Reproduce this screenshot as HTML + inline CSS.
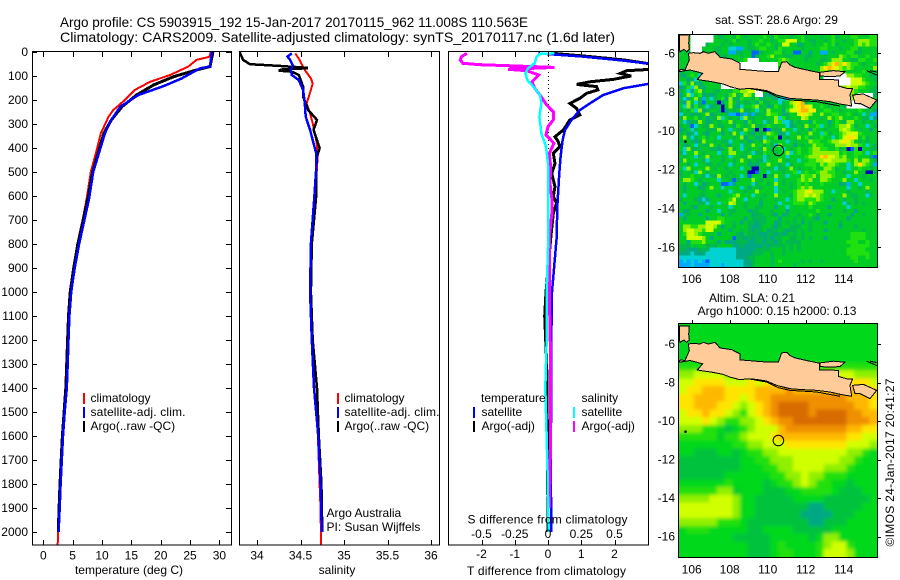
<!DOCTYPE html>
<html>
<head>
<meta charset="utf-8">
<style>
html,body{margin:0;padding:0;background:#fff;}
svg{display:block;}
text{font-family:"Liberation Sans",sans-serif;font-size:12px;fill:#000;}
</style>
</head>
<body>
<svg id="fig" xmlns="http://www.w3.org/2000/svg" width="900" height="580" viewBox="0 0 900 580">
<defs>
<clipPath id="clip-t"><rect x="32" y="52" width="199" height="493"/></clipPath>
<clipPath id="clip-s"><rect x="239" y="52" width="200" height="493"/></clipPath>
<clipPath id="clip-d"><rect x="448" y="52" width="201" height="493"/></clipPath>
<clipPath id="clip-sst"><rect x="679" y="35" width="198" height="232"/></clipPath>
<clipPath id="clip-sla"><rect x="679" y="324" width="198" height="233"/></clipPath>
<filter id="soften" x="-10%" y="-10%" width="120%" height="120%"><feGaussianBlur stdDeviation="1.8"/></filter>
</defs>

<text x="60" y="27" font-size="14" style="font-size:14px" textLength="468" lengthAdjust="spacingAndGlyphs">Argo profile: CS 5903915_192 15-Jan-2017 20170115_962 11.008S 110.563E</text>
<text x="60" y="42" style="font-size:14px" textLength="555" lengthAdjust="spacingAndGlyphs">Climatology: CARS2009. Satellite-adjusted climatology: synTS_20170117.nc (1.6d later)</text>

<g id="panel-t"></g>
<g id="panel-s"></g>
<g id="panel-d"></g>

<g>
<rect x="83" y="393" width="2" height="11" fill="#ff0000"/>
<rect x="83" y="407" width="2" height="11" fill="#0000ff"/>
<rect x="83" y="421" width="2" height="11" fill="#000"/>
<text x="90.5" y="402">climatology</text>
<text x="90.5" y="416" textLength="95">satellite-adj. clim.</text>
<text x="90.5" y="430">Argo(..raw -QC)</text>
</g>
<g>
<rect x="337" y="393" width="2" height="11" fill="#ff0000"/>
<rect x="337" y="407" width="2" height="11" fill="#0000ff"/>
<rect x="337" y="421" width="2" height="11" fill="#000"/>
<text x="344.5" y="402">climatology</text>
<text x="344.5" y="416" textLength="95">satellite-adj. clim.</text>
<text x="344.5" y="430">Argo(..raw -QC)</text>
<text x="326.5" y="517">Argo Australia</text>
<text x="326.5" y="531">PI: Susan Wijffels</text>
</g>
<g>
<text x="481" y="402">temperature</text>
<rect x="473" y="407" width="2" height="11" fill="#0000ff"/>
<rect x="473" y="421" width="2" height="11" fill="#000"/>
<text x="481.5" y="416">satellite</text>
<text x="481.5" y="430">Argo(-adj)</text>
<text x="581.5" y="402">salinity</text>
<rect x="573" y="407" width="2" height="11" fill="#00ffff"/>
<rect x="573" y="421" width="2" height="11" fill="#ff00ff"/>
<text x="581.5" y="416">satellite</text>
<text x="581.5" y="430">Argo(-adj)</text>
</g>

<text x="129" y="574" text-anchor="middle">temperature (deg C)</text>
<text x="337" y="574" text-anchor="middle">salinity</text>
<text x="546.5" y="575" text-anchor="middle" textLength="159">T difference from climatology</text>
<text x="547.5" y="523.5" text-anchor="middle" textLength="160">S difference from climatology</text>

<g id="map-sst"></g>
<g id="map-sla"></g>

<text x="776.5" y="24" text-anchor="middle">sat. SST: 28.6 Argo: 29</text>
<text x="752" y="302" text-anchor="middle">Altim. SLA: 0.21</text>
<text x="777" y="315" text-anchor="middle">Argo h1000: 0.15 h2000: 0.13</text>
<text transform="translate(894,546.5) rotate(-90)" textLength="168">©IMOS 24-Jan-2017 20:41:27</text>
</svg>

<script>
const depthTicks = [0,100,200,300,400,500,600,700,800,900,1000,1100,1200,1300,1400,1500,1600,1700,1800,1900,2000];
const tempTicks = [0,5,10,15,20,25,30];
const salTicks = [34,34.5,35,35.5,36];
const salTickLabels = ['34','34.5','35','35.5','36'];
const tDiffTicks = [-2,-1,0,1,2];
const sDiffTicks = [-0.5,-0.25,0,0.25,0.5];
const sDiffTickLabels = ['-0.5','-0.25','0','0.25','0.5'];

const tempClimDepth = [0,20,33,61,96,124,158,200,242,270,339,408,500,610,700,800,900,1000,1100,1200,1300,1400,1500,1600,1700,1800,1900,2000,2054];
const tempClim = [28.5,28.3,26.1,24.7,21.6,18.2,15.6,13.9,11.9,11.1,9.8,9.1,8.1,7.4,6.7,5.8,5.1,4.5,4.2,4.05,3.9,3.75,3.45,3.2,3.0,2.8,2.6,2.5,2.45];
const tempArgoDepth = [0,61,75,103,137,179,228,283,339,500,610,700,800,900,1000,1100,1200,1300,1400,1500,1600,1700,1800,1900,2000];
const tempArgo = [28.9,28.4,26.1,22.2,18.8,15.9,13.4,11.6,10.3,8.4,7.6,6.8,5.9,5.2,4.6,4.3,4.15,4.0,3.85,3.55,3.25,3.05,2.85,2.7,2.55];
const tempSatDepth = [0,61,68,110,142,179,228,290,339,500,610,700,800,900,1000,1100,1200,1300,1400,1500,1600,1700,1800,1900,2000];
const tempSat = [28.7,28.4,26.7,23.6,20.5,16.2,13.1,11.4,10.5,8.5,7.8,7.0,6.1,5.35,4.75,4.45,4.3,4.15,4.0,3.65,3.35,3.15,2.95,2.8,2.6];

const salClimDepth = [6,33,75,110,131,158,214,255,297,367,422,478,600,800,1000,1200,1400,1600,1800,1900,2000,2054];
const salClim = [34.44,34.49,34.55,34.62,34.64,34.62,34.57,34.61,34.64,34.68,34.70,34.69,34.67,34.63,34.61,34.63,34.66,34.70,34.72,34.73,34.735,34.735];
const salArgoDepth = [0,33,51,58,66,68,72,76,78,82,96,144,186,242,283,325,367,401,436,485,600,800,1000,1200,1400,1600,1800,2000];
const salArgo = [33.80,33.84,33.92,34.26,34.57,34.57,34.30,34.26,34.26,34.40,34.48,34.53,34.53,34.59,34.69,34.65,34.69,34.72,34.69,34.68,34.68,34.63,34.62,34.64,34.69,34.71,34.74,34.75];
const salSatDepth = [6,19,33,54,75,96,117,158,214,269,325,380,422,485,600,800,1000,1200,1400,1600,1800,1900,2000];
const salSat = [34.40,34.35,34.38,34.41,34.39,34.40,34.48,34.53,34.55,34.56,34.61,34.65,34.68,34.68,34.66,34.62,34.61,34.63,34.655,34.705,34.73,34.74,34.743];

const dTSatDepth = [6,19,36,50,131,151,179,214,242,283,325,367,436,505,644,776,1000,1200,1400,1700,2000];
const dTSat = [-0.29,1.06,2.27,3.1,3.1,2.27,1.66,1.26,0.96,0.71,0.51,0.44,0.38,0.34,0.28,0.26,0.12,0.10,0.10,0.08,0.10];
const dTArgoDepth = [6,19,33,50,72,78,89,100,114,124,135,144,158,172,193,214,235,262,283,325,353,374,394,422,464,505,561,603,630,672,776,1000,1100,1300,1550,2000];
const dTArgo = [0.16,1.26,2.27,3.1,3.1,2.37,2.17,2.5,1.96,1.26,0.86,1.46,1.5,1.16,0.96,0.66,0.86,0.96,0.66,0.46,0.21,0.31,0.36,0.16,0.21,0.11,0.21,0.16,0.26,0.16,0.08,-0.06,-0.1,-0.04,-0.02,0];
const dSSatDepth = [6,8,19,47,68,89,117,151,179,214,269,339,394,464,776,1000,1200,1400,1700,2000];
const dSSat = [0.05,-0.06,-0.085,-0.10,-0.15,-0.17,-0.155,-0.10,-0.06,-0.05,-0.065,-0.05,-0.015,0,0.002,-0.01,-0.01,-0.02,-0.005,0.005];
const dSArgoDepth = [6,19,33,47,53,58,64,72,78,96,124,151,179,221,249,283,311,346,380,422,478,547,617,665,776,1000,1300,1600,1900];
const dSArgo = [-0.61,-0.65,-0.66,-0.64,-0.51,-0.26,0.05,-0.30,-0.16,-0.07,-0.12,-0.10,-0.06,-0.01,0.04,0.04,0.0,-0.015,0.045,0.01,0.02,0.015,0.03,0.03,0.01,0.01,0.02,0.02,0.01];

// ---- map data: lon/lat ticks and colour-class cells, estimated by eye ----
const lonTicks = [106,108,110,112,114];
const latTicks = [-6,-8,-10,-12,-14,-16];
const floatLon = 110.563;
const floatLat = -11.008;
const palette = {'0':'#0000b4','1':'#0064ff','2':'#00aaff','3':'#00d2d2','4':'#00a884','5':'#00b84e','6':'#00cc28','7':'#20e010','8':'#90f000','9':'#d0ff00','a':'#ffe400','b':'#ffb800','c':'#f09000','d':'#d86c00','w':'#ffffff','g':'#00d81c','h':'#00c23e'};
const sstRows = [
"666wwwwww655665765666676576665667566656675666776667",
"666wwwwww666567566566766567799967655665676656678887",
"666wwww56665656666567667656996645665667675666678787",
"667www666556633226556776657666665666677666566775666",
"665www566656622556611566677566116646622656667755666",
"666666665665566656615667866655666556665666876776676",
"666666666666666667www6666678766665666556888665577667",
"666666666666666wwwwwwwwwww77766666665678ab8a87765666",
"666666666666666wwwwwwwwwww666666666668aba98787666668",
"566666666666666wwwwwwwwwww666666666668878887666676",
"54676366666666666666666666666666666666wwwwww88776655",
"66453766666666666666666666666666666666wwwwwww9997665",
"37585466666wwww66666666666666666666666wwwwwww9998766",
"45738546666wwww6666666666666666666666666668898877665",
"56347856655665778899ww666666666666666666667888766655",
"46836745456657856986ww544666666666666666666788 6wwww5",
"53468526356748557665745654333366666666666666786wwww6",
"5486351665046864655647556635689ab5666666666wwww65555",
"6384756345606854366785645765679aba966765 6665wwwwww66",
"5657384566504656855636586664799abb9a6677665666676564",
"3564556845665221424255687764566 9a98668667766765636 22",
"5866756455836565385566566837566698666568678666765534",
"6345586456566856647566356873346566476664676588665656",
"5651365586556647656855676566345658667365678897566365",
"4563566555856365586506015558663656476656668987656646",
"5645365466646586365465687645366566866375667899976666",
"6853567566366656846645366706566867566766367 9aa967566",
"5665458665655366564565875666365666877667889a98656 56",
"6456365586565466356866565386664656687766688898876365",
"6385556655456856365665865663656766788776675601706655",
"5366865666366886656355766566836766788888886766776367",
"6566356856656366558666356666366667888ab9987866766641",
"5866665366656656865655366686566366778899888876868865",
"6656366556566356664546686656356667776878876636 8a8762",
"6386666865665666366006656355686566676688756636676656",
"5665386566666566660016636665667367667887766566866005",
"5667665355865656361666065866366687786888766636665666",
"6887656666366515666865666365666787866887666866366656",
"6566364566611246666356656865656767666766664526636666",
"6466645686636666364655666366656787866666666636656866",
"6566665666666366656686666365667889a88866366656666566",
"6366655666466678666366566866657889898766666865566356",
"5666543466666796636665666566367887778766466566566666",
"6466655366366986656664666636667776876666666356565 6",
"6665466656666366656655666466366666 7666646666366666 6",
"6456666466366556664556665666466666667666666566466666",
"2656646666646566666455665464566566765664666664665666",
"6466666466776666646555566646665656654666666646666666",
"6666666999976656465545566456565646566646665666666 66",
"6887788998646656665445665456655566566666664666566666",
"6899887996666466565455645565455656566646666666665666",
"6799876666466665465554455454565656666666666667777666",
"6699998646666615545455454556655656566646666667777666",
"6647778666464445554455455456555566666666666677766766",
"5556666555666644544444545555656566666666666667777766",
"5544455533333334444455556665656566666666666677777666",
"4443444333333334444555665665666666666666666677777766",
"3333333333333334445566665666666666666666666667766766",
"2323232133333333344566665676666656566566666666766666",
"2223222233323333344566665666665666666666666666666666"
];
const slaRows = [
"gggggggggggggggggggggggggg",
"gggggggggggggggggggggggggg",
"gggggggggggggggggggggggggg",
"gggggggggggggggggggggggggg",
"ggg77777gggggggggggggggggg",
"77777888877777777777777777",
"88999988888999999989999888",
"99aaaa999a9aabbbbbbbbaaaa9",
"9aabbbaaaabbbbcbbbbbbbbbaa",
"aabbbbaa9abbccccccccccbbba",
"aabbbaa989abcddddccccccbba",
"9aabaa987 9abcddddcddddccbb",
"999a9877889abccdddddddcccb",
"88877ghg78999bccccccccbbaa",
"7777767789 99abbbbbbbbbaa9",
"ggggggg7788999aaaaaaaa9998",
"gghhhgghg7788999999999887g",
"hhhhhhhhgg7788899999988 7gg",
"hhhhhhhhggg77889999888 7ggg",
"hhhhhhgggggg7788988777gggg",
"gggggg7gggghg7789877gghggg",
"77777886ggghhhgg7777ghhhgg",
"88889998gghhhhhgggghhhhhhg",
"99999998gghhhhhhh44hhhhhgg",
"99999998gghhhhhh4444hhhggg",
"88888777ghhhhhhhh44hhhgggg",
"g777ggggghhgggghhhhhgggggg",
"ggggggghhhhhggggghg88ggggg",
"ggggggggghhhg7gggg78997ggg",
"ggggggggghhhg77ggg79998ggg"
];
const javaCoast = "M58,152 L62,148 L75,150 L88,120 L85,100 L100,98 L120,100 L130,95 L145,100 L165,95 L180,112 L215,117 L240,130 L240,148 L265,150 L300,153 L330,155 L355,155 L365,127 L380,125 L390,135 L405,142 L440,150 L478,158 L478,178 L500,178 L535,180 L535,198 L560,205 L578,205 L570,225 L575,258 L540,252 L510,245 L470,240 L430,238 L390,235 L350,225 L320,212 L290,207 L265,205 L240,208 L210,200 L190,192 L155,185 L120,180 L112,178 L128,160 L110,155 L90,150 L58,155 Z";
const sumatraCoast = "M58,45 L88,45 L86,70 L88,88 L80,95 L72,88 L60,95 L58,85 Z";
const maduraCoast = "M480,157 L520,152 L555,155 L540,168 L510,170 L480,168 Z";
const baliCoast = "M578,225 L610,222 L650,240 L630,265 L600,250 L585,250 Z";
const offshoreLine = "M265,205 L320,215 L355,232 L390,240 L470,245 L540,258 M630,152 L650,156 M620,152 L650,165";

// ---- geometry ----
const NS = 'http://www.w3.org/2000/svg';
const panelTop = 52, panelBottom = 545;
function yD(d){ return 52 + d * 0.24; }
function xT(t){ return 43.3 + t * 5.87; }
function xS(s){ return 257 + (s - 34) * 87; }
function xDT(t){ return 548 + t * 33.25; }
function xDS(s){ return 548 + s * 133; }

function mk(parent, tag, attrs, txt){
  const el = document.createElementNS(NS, tag);
  for (const k in attrs) el.setAttribute(k, attrs[k]);
  if (txt !== undefined) el.textContent = txt;
  parent.appendChild(el);
  return el;
}

function drawFrame(parent, x0, x1){
  const el = mk(parent, 'rect', {x:x0+.5, y:panelTop-.5, width:x1-x0, height:panelBottom-panelTop+.5, fill:'none', stroke:'#000', 'stroke-width':1});
  
  
}
function xTicks(parent, ticks, labels, fx, labelY){
  ticks.forEach(function(t, i){
    const x = Math.round(fx(t)) + .5;
    const a = mk(parent, 'path', {d:'M'+x+','+panelTop+'V'+(panelTop+5)+'M'+x+','+panelBottom+'V'+(panelBottom-5), stroke:'#000', fill:'none', 'shape-rendering':'crispEdges'});
    
    
    const l = mk(parent, 'text', {x:fx(t), y:labelY, 'text-anchor':'middle'}, labels[i]);
    
    
  });
}
function drawSeries(parent, name, depths, values, fx, color, width, clip){
  const pts = depths.map(function(d, i){ return fx(values[i]).toFixed(1) + ',' + yD(d).toFixed(1); }).join(' ');
  const line = mk(parent, 'polyline', {points:pts, fill:'none', stroke:color, 'stroke-width':width, 'stroke-linejoin':'miter', 'shape-rendering':'crispEdges', 'clip-path':'url(#'+clip+')'});
  
  
}

// temperature panel
const pT = document.getElementById('panel-t');
drawSeries(pT, 'series-climatology-temperature', tempClimDepth, tempClim, xT, '#ff0000', 2, 'clip-t');
drawSeries(pT, 'series-argo-temperature', tempArgoDepth, tempArgo, xT, '#000', 3, 'clip-t');
drawSeries(pT, 'series-satellite-temperature', tempSatDepth, tempSat, xT, '#0000ff', 2.5, 'clip-t');
drawFrame(pT, 32, 231);
xTicks(pT, tempTicks, tempTicks.map(String), xT, 559.5);
depthTicks.forEach(function(d){
  const y = Math.round(yD(d)) + .5;
  const a = mk(pT, 'path', {d:'M32,'+y+'H37M231,'+y+'H226', stroke:'#000', fill:'none', 'shape-rendering':'crispEdges'});
  
  
  const l = mk(pT, 'text', {x:28, y:yD(d)+4, 'text-anchor':'end'}, String(d));
  
  
});

// salinity panel
const pS = document.getElementById('panel-s');
drawSeries(pS, 'series-climatology-salinity', salClimDepth, salClim, xS, '#ff0000', 2, 'clip-s');
drawSeries(pS, 'series-argo-salinity', salArgoDepth, salArgo, xS, '#000', 2.5, 'clip-s');
drawSeries(pS, 'series-satellite-salinity', salSatDepth, salSat, xS, '#0000ff', 2.5, 'clip-s');
drawFrame(pS, 239, 439);
xTicks(pS, salTicks, salTickLabels, xS, 559.5);

// difference panel
const pD = document.getElementById('panel-d');
const zeroLine = mk(pD, 'line', {x1:548.5, x2:548.5, y1:yD(0), y2:yD(500), stroke:'#000', 'stroke-dasharray':'1 3', 'shape-rendering':'crispEdges'});


drawSeries(pD, 'series-argo-t-difference', dTArgoDepth, dTArgo, xDT, '#000', 3, 'clip-d');
drawSeries(pD, 'series-satellite-t-difference', dTSatDepth, dTSat, xDT, '#0000ff', 2.5, 'clip-d');
drawSeries(pD, 'series-argo-s-difference', dSArgoDepth, dSArgo, xDS, '#ff00ff', 3, 'clip-d');
drawSeries(pD, 'series-satellite-s-difference', dSSatDepth, dSSat, xDS, '#00ffff', 2.5, 'clip-d');
drawFrame(pD, 448, 648);
xTicks(pD, tDiffTicks, tDiffTicks.map(String), xDT, 558);
sDiffTicks.forEach(function(s, i){
  const l = mk(pD, 'text', {x:xDS(s), y:538, 'text-anchor':'middle'}, sDiffTickLabels[i]);
  
  
});

// maps
function drawMap(gId, prefix, rows, nCols, left, top, w, h, lat6Y, latScale, coastTy, coastSy, clip, labelY, soften){
  const g = document.getElementById(gId);
  const lonX = function(lon){ return 691.7 + (lon - 106) * 19; };
  const latY = function(lat){ return lat6Y + (-6 - lat) * latScale; };
  const cells = mk(g, 'g', {'clip-path':'url(#'+clip+')'});
  
  
  const layer = mk(cells, 'g', soften ? {filter:'url(#soften)'} : {});
  const nRows = rows.length;
  const cw = w / nCols, ch = h / nRows;
  const pad = soften ? 14 : 0;
  rows.forEach(function(rowStr, r){
    const row = rowStr.replace(/ /g, '');
    for (let c = 0; c < nCols; c++){
      const col = palette[row[c]] || palette[row[row.length - 1]] || palette['6'];
      let x0 = left + c * cw, y0 = top + r * ch, cwid = cw + .4, chei = ch + .4;
      if (c === 0){ x0 -= pad; cwid += pad; }
      if (c === nCols - 1){ cwid += pad; }
      if (r === 0){ y0 -= pad; chei += pad; }
      if (r === nRows - 1){ chei += pad; }
      const cell = mk(layer, 'rect', {x:x0.toFixed(2), y:y0.toFixed(2), width:cwid.toFixed(2), height:chei.toFixed(2), fill:col, 'shape-rendering':'crispEdges'});
      
      
    }
  });
  const land = mk(g, 'g', {'clip-path':'url(#'+clip+')'});
  
  
  const inner = mk(land, 'g', {transform:'translate(660,'+coastTy+') scale(0.33333,'+coastSy+')'});
  [sumatraCoast, javaCoast, maduraCoast, baliCoast].forEach(function(p){
    const s = mk(inner, 'path', {d:p, fill:'#ffcc99', stroke:'#000', 'stroke-width':3, 'shape-rendering':'crispEdges'});
    
    
  });
  const off = mk(inner, 'path', {d:offshoreLine, fill:'none', stroke:'#000', 'stroke-width':3, 'shape-rendering':'crispEdges'});
  
  
  const frame = mk(g, 'rect', {x:left-.5, y:top-.5, width:w+1, height:h+1, fill:'none', stroke:'#000', 'stroke-width':1, 'shape-rendering':'crispEdges'});
  
  
  const marker = mk(g, 'circle', {cx:lonX(floatLon), cy:latY(floatLat), r:5.3, fill:'none', stroke:'#000', 'stroke-width':1});
  
  
  const isle = mk(g, 'circle', {cx:685.5, cy:latY(-10.55), r:1.3, fill:'#000'});
  
  
  lonTicks.forEach(function(lon){
    const x = Math.round(lonX(lon)) + .5;
    const t = mk(g, 'line', {x1:x, x2:x, y1:top-4, y2:top, stroke:'#000', 'shape-rendering':'crispEdges'});
    
    
    const l = mk(g, 'text', {x:lonX(lon), y:labelY, 'text-anchor':'middle'}, String(lon));
    
    
  });
  latTicks.forEach(function(lat){
    const y = Math.round(latY(lat)) + .5;
    const t = mk(g, 'line', {x1:left+w, x2:left+w+4, y1:y, y2:y, stroke:'#000', 'shape-rendering':'crispEdges'});
    
    
    const l = mk(g, 'text', {x:675, y:latY(lat)+4, 'text-anchor':'end'}, String(lat));
    
    
  });
}
drawMap('map-sst', 'sst', sstRows, 52, 679, 35, 198, 232, 53.3, 19.4, 20, 0.33333, 'clip-sst', 283, false);
drawMap('map-sla', 'sla', slaRows, 26, 679, 324, 198, 233, 344, 19.27, 310.9, 0.331, 'clip-sla', 573.5, true);
</script>
</body>
</html>
